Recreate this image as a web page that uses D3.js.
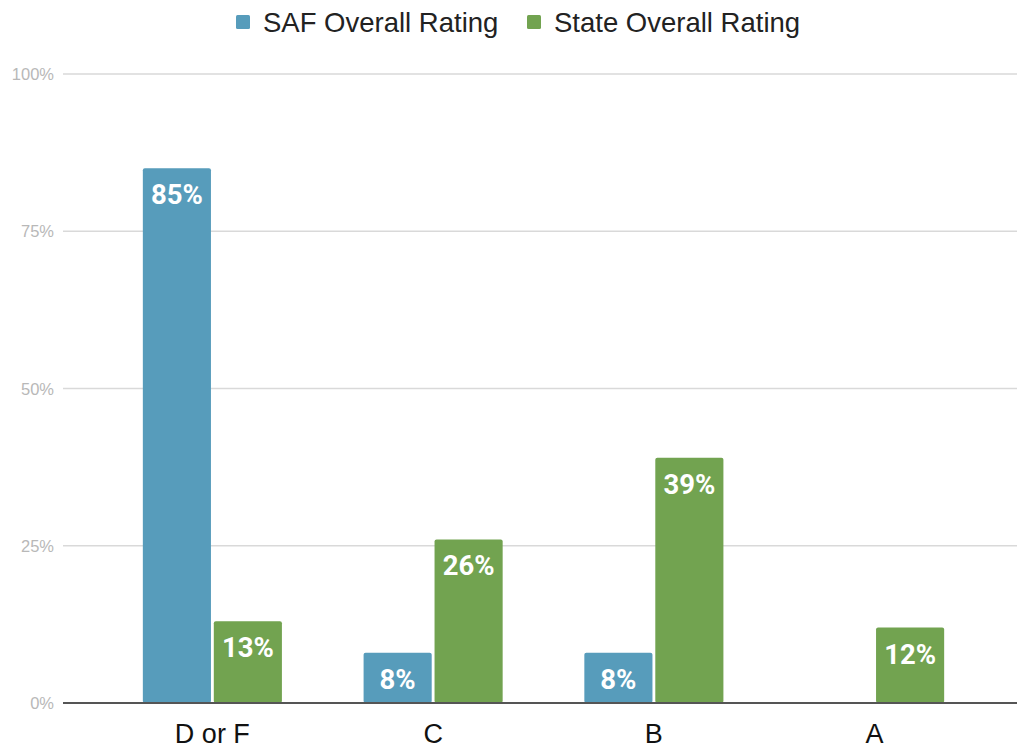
<!DOCTYPE html>
<html><head><meta charset="utf-8">
<script src="https://cdn.jsdelivr.net/npm/d3@7"></script>
<style>body{margin:0;background:#fff}svg{display:block}</style>
</head><body>
<svg id="c" width="1017" height="750"></svg>
<script>
const categories = ["D or F", "C", "B", "A"];
const seriesNames = ["SAF Overall Rating", "State Overall Rating"];
const safValues = [85, 8, 8, 0];
const stateValues = [13, 26, 39, 12];
const yTicks = [0, 25, 50, 75, 100];
const colors = ["#579cbb", "#72a350"];

const svg = d3.select("#c");
const x = d3.scaleBand().domain(categories).range([102, 985]).paddingInner(0.37).paddingOuter(0.185);
const xs = d3.scaleBand().domain(seriesNames).range([0, x.bandwidth()]).paddingInner(0.04);
const y = d3.scaleLinear().domain([0, 100]).range([703, 74]);

// grid
svg.append("g").selectAll("line").data(yTicks.filter(d => d > 0)).join("line")
  .attr("x1", 63).attr("x2", 1017).attr("y1", d => y(d)).attr("y2", d => y(d))
  .attr("stroke", "#d9d9d9").attr("stroke-width", 1.5);
svg.append("g").selectAll("text").data(yTicks).join("text")
  .attr("x", 54).attr("y", d => y(d) + 6).attr("text-anchor", "end")
  .attr("font-family", "Liberation Sans, Arial, sans-serif").attr("font-size", 16.5)
  .attr("fill", "#b8b8b8").text(d => d + "%");

const rows = categories.map((c, i) => ({c, vals: [safValues[i], stateValues[i]]}));
const g = svg.append("g").selectAll("g").data(rows).join("g")
  .attr("transform", d => `translate(${x(d.c)},0)`);
const bars = g.selectAll("g").data(d => d.vals.map((v, j) => ({v, s: seriesNames[j], j}))).join("g");
bars.filter(d => d.v > 0).append("rect")
  .attr("x", d => xs(d.s)).attr("width", xs.bandwidth())
  .attr("y", d => y(d.v)).attr("height", d => y(0) - y(d.v))
  .attr("rx", 2).attr("fill", d => colors[d.j]);
bars.filter(d => d.v > 0).append("text")
  .attr("x", d => xs(d.s) + xs.bandwidth() / 2).attr("y", d => y(d.v) + 36)
  .attr("text-anchor", "middle").attr("font-family", "Roboto, sans-serif")
  .attr("font-weight", "bold").attr("font-size", 27.5).attr("fill", "#fff")
  .text(d => d.v + "%");

// baseline
svg.append("line").attr("x1", 63).attr("x2", 1017).attr("y1", y(0)).attr("y2", y(0))
  .attr("stroke", "#555").attr("stroke-width", 2);

// x axis labels
svg.append("g").selectAll("text").data(categories).join("text")
  .attr("x", d => x(d) + x.bandwidth() / 2).attr("y", 743).attr("text-anchor", "middle")
  .attr("font-family", "Liberation Sans, Arial, sans-serif").attr("font-size", 27)
  .attr("fill", "#111").text(d => d);

// legend
const legendX = [236, 527];
const lg = svg.append("g").selectAll("g").data(seriesNames).join("g")
  .attr("transform", (d, i) => `translate(${legendX[i]},0)`);
lg.append("rect").attr("x", 0).attr("y", 15).attr("width", 14).attr("height", 14).attr("rx", 1.5)
  .attr("fill", (d, i) => colors[i]);
lg.append("text").attr("x", 27).attr("y", 32).attr("font-family", "Liberation Sans, Arial, sans-serif")
  .attr("font-size", 27.5).attr("fill", "#222").text(d => d);
</script>
</body></html>
